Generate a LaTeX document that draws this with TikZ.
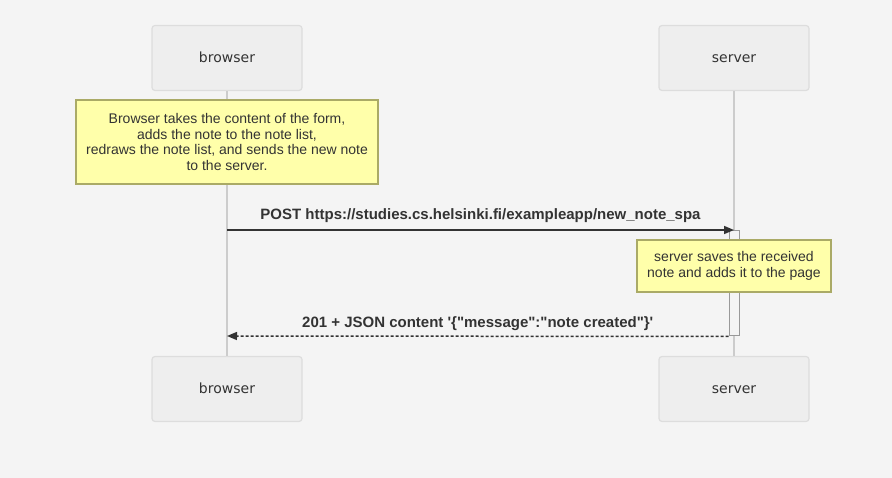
\documentclass[tikz,border=0pt]{standalone}
\usepackage{fontspec}
\setmainfont{Liberation Sans}
\newfontfamily\actorfont{DejaVu Sans}
\usetikzlibrary{arrows.meta}
\definecolor{fondo}{HTML}{F4F4F4}
\definecolor{actorfill}{HTML}{EEEEEE}
\definecolor{actorline}{HTML}{DDDDDD}
\definecolor{vida}{HTML}{CCCCCC}
\definecolor{notafill}{HTML}{FFFFAA}
\definecolor{notaline}{HTML}{AAAA66}
\definecolor{texto}{HTML}{333333}
\newcommand{\sqmark}{\XeTeXglyph\XeTeXcharglyph"27\relax}
\newcommand{\dqmark}{\XeTeXglyph\XeTeXcharglyph"22\relax}
\begin{document}
\begin{tikzpicture}[x=1pt, y=-1pt,
    actor/.style={draw=actorline, fill=actorfill, line width=1.2pt, rounded corners=3pt,
        minimum width=150pt, minimum height=65pt, inner sep=0pt, text=texto,
        text height=12.4pt, text depth=3pt,
        font=\actorfont\fontsize{14}{16}\selectfont},
    nota/.style={draw=notaline, fill=notafill, line width=1.2pt, inner sep=0pt,
        text=texto, align=center, font=\fontsize{14}{15.75}\selectfont},
    vidaline/.style={draw=vida, line width=1.5pt},
    activa/.style={draw=gray!80, fill=fondo, line width=1pt, minimum width=10pt,
        minimum height=105pt, inner sep=0pt},
    msg/.style={draw=texto, line width=1.5pt, -{Triangle[length=10pt, width=8pt]}},
    msglabel/.style={text=texto, anchor=base, font=\bfseries\fontsize{15}{18}\selectfont}]
        \useasboundingbox (0,0) rectangle (892,478);
        % Fondo
        \fill[fondo] (0,0) rectangle (892,478);

        % Actores
        \node[actor] (browsertop) at (227,58) {browser};
        \node[actor] (servertop) at (734,58) {server};
        \node[actor] (browserbot) at (227,389) {browser};
        \node[actor] (serverbot) at (734,389) {server};

        % Lineas de vida
        \draw[vidaline] (browsertop) -- (browserbot);
        \draw[vidaline] (servertop) -- (serverbot);

        % Activacion del servidor
        \node[activa] (act) at (734,283.5) {};

        % Notas
        \node[nota, minimum width=302pt, minimum height=84pt] (nota1) at (227,142)
            {Browser takes the content of the form,\\adds the note to the note list,\\redraws the note list, and sends the new note\\to the server.};
        \node[nota, minimum width=194pt, minimum height=52pt] (nota2) at (734,266)
            {server saves the received\\note and adds it to the page};

        % Mensajes
        \coordinate (post) at (227,230);
        \coordinate (postend) at (734,230);
        \coordinate (resend) at (227,336);
        \draw[msg] (post) -- (postend)
            node[msglabel, midway, yshift=10pt] {POST https://studies.cs.helsinki.fi/exampleapp/new\_note\_spa};
        \draw[msg, dash pattern=on 3pt off 2pt] (act.south west) -- (resend)
            node[msglabel, midway, yshift=8.5pt] {201 + JSON content \sqmark\{\dqmark message\dqmark:\dqmark note created\dqmark\}\sqmark};
\end{tikzpicture}
\end{document}
